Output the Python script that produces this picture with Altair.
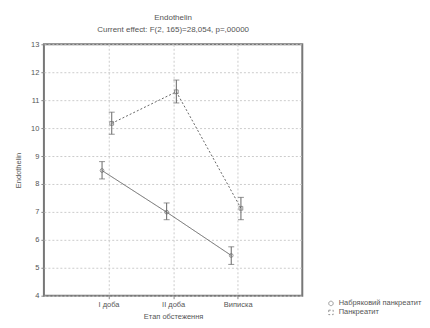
import altair as alt
import pandas as pd

stages = ["I доба", "II доба", "Виписка"]
series = ["Набряковий панкреатит", "Панкреатит"]
means_a = [8.48, 6.99, 5.44]
lo_a = [8.18, 6.72, 5.12]
hi_a = [8.80, 7.32, 5.75]
means_b = [10.17, 11.30, 7.13]
lo_b = [9.78, 10.90, 6.72]
hi_b = [10.57, 11.72, 7.52]
offsets = [-0.1, 0.05]
y_ticks = list(range(4, 14))

rows = []
for si, (m, lo, hi) in enumerate([(means_a, lo_a, hi_a), (means_b, lo_b, hi_b)]):
    for i, st in enumerate(stages):
        rows.append({"series": series[si], "stage": st, "x": i + 1 + offsets[si],
                     "mean": m[i], "lo": lo[i], "hi": hi[i]})
df = pd.DataFrame(rows)

font = "Liberation Sans"
xaxis = alt.Axis(values=[1, 2, 3], title="Етап обстеження",
                 labelExpr="datum.value == 1 ? 'I доба' : datum.value == 2 ? 'II доба' : 'Виписка'")
yaxis = alt.Axis(values=y_ticks, title="Endothelin", labelOverlap=False, titlePadding=8)
xscale = alt.Scale(domain=[0, 4])
yscale = alt.Scale(domain=[4, 13])

def X(f):
    return alt.X(f, scale=xscale, axis=xaxis)

def Y(f):
    return alt.Y(f, scale=yscale, axis=yaxis)

dash_scale = alt.Scale(domain=series, range=[[1, 0], [2, 2]])
shape_scale = alt.Scale(domain=series, range=["circle", "square"])

base = alt.Chart(df)
lines = base.mark_line(color="#666", strokeWidth=1).encode(
    x=X("x:Q"), y=Y("mean:Q"),
    strokeDash=alt.StrokeDash("series:N", scale=dash_scale,
                              legend=alt.Legend(title=None)),
)
rules = base.mark_rule(color="#666", strokeWidth=1).encode(x=X("x:Q"), y=Y("lo:Q"), y2="hi:Q")
cap_lo = base.mark_tick(color="#666", thickness=1, size=6, orient="horizontal").encode(x=X("x:Q"), y=Y("lo:Q"))
cap_hi = base.mark_tick(color="#666", thickness=1, size=6, orient="horizontal").encode(x=X("x:Q"), y=Y("hi:Q"))
points = base.mark_point(color="#666", size=14, filled=False, strokeWidth=1).encode(
    x=X("x:Q"), y=Y("mean:Q"),
    shape=alt.Shape("series:N", scale=shape_scale, legend=alt.Legend(title=None)),
)

chart = alt.layer(lines, rules, cap_lo, cap_hi, points).properties(
    width=259, height=252,
    title=alt.TitleParams(["Endothelin", "Current effect: F(2, 165)=28,054, p=,00000"],
                          fontSize=8, font=font, fontWeight="normal", color="#555",
                          anchor="middle", offset=6, lineHeight=12),
    autosize=alt.AutoSizeParams(type="none"),
    padding={"left": 36, "top": 36, "right": 120, "bottom": 30},
).configure(font=font).configure_view(
    stroke="#777", strokeWidth=2
).configure_axis(
    grid=True, gridDash=[2, 2], gridColor="#cccccc",
    labelFontSize=7.5, titleFontSize=7.5, tickSize=3, domain=False,
    labelColor="#555", titleColor="#555", titleFontWeight="normal",
    labelOverlap=False,
).configure_legend(
    orient="none", legendX=284, legendY=256, labelFontSize=7.5, labelColor="#555",
    symbolSize=20, rowPadding=0, symbolStrokeColor="#666", symbolStrokeWidth=1,
    labelLimit=200,
)

chart.save("out.html", embed_options={"renderer": "svg", "actions": False})
